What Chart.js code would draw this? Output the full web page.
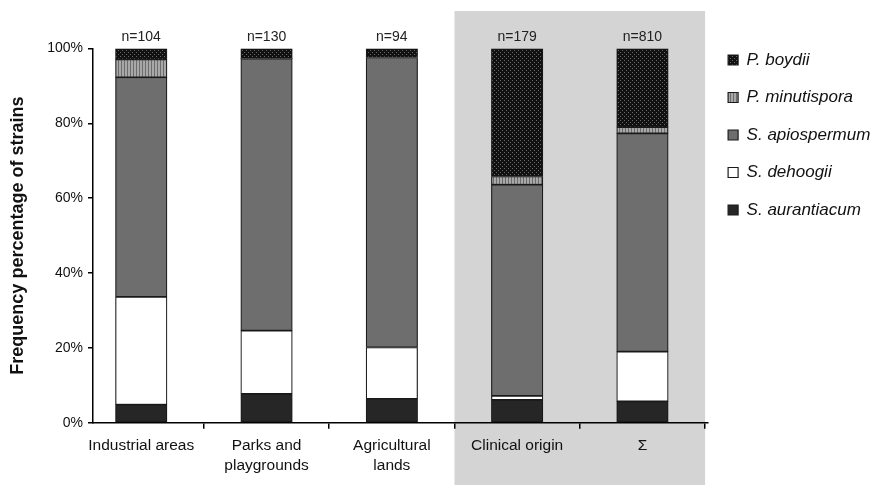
<!DOCTYPE html>
<html>
<head>
<meta charset="utf-8">
<script src="https://cdn.jsdelivr.net/npm/chart.js@4/dist/chart.umd.min.js"></script>
<style>
  html, body { margin: 0; padding: 0; background: #ffffff; }
  #wrap { width: 874px; height: 485px; }
</style>
</head>
<body>
<div id="wrap"><canvas id="c" width="874" height="485"></canvas></div>
<script>
// ---- data ----
const categories = [['Industrial areas'], ['Parks and', 'playgrounds'], ['Agricultural', 'lands'], ['Clinical origin'], ['Σ']];
const sampleSizes = [104, 130, 94, 179, 810];
const seriesNames = ['S. aurantiacum', 'S. dehoogii', 'S. apiospermum', 'P. minutispora', 'P. boydii'];
const sAurantiacum = [4.8, 7.7, 6.4, 6.1, 5.7];
const sDehoogii    = [28.8, 16.9, 13.7, 1.1, 13.3];
const sApiospermum = [58.7, 72.7, 77.5, 56.4, 58.3];
const pMinutispora = [4.8, 0, 0, 2.2, 1.7];
const pBoydii      = [2.9, 2.7, 2.4, 34.2, 21.0];
const yTicks = [0, 20, 40, 60, 80, 100];
const shadedFromIndex = 3;

// ---- fills ----
function makePattern(w, h, draw) {
  const c = document.createElement('canvas');
  c.width = w; c.height = h;
  const g = c.getContext('2d');
  draw(g);
  return g.createPattern(c, 'repeat');
}
const boydiiFill = makePattern(4, 4, g => {
  g.fillStyle = '#111111'; g.fillRect(0, 0, 4, 4);
  g.fillStyle = '#6a6a6a'; g.fillRect(0, 0, 1, 1); g.fillRect(2, 2, 1, 1);
});
const minutisporaFill = makePattern(3, 1, g => {
  g.fillStyle = '#a8a8a8'; g.fillRect(0, 0, 3, 1);
  g.fillStyle = '#6c6c6c'; g.fillRect(1, 0, 1, 1);
});
const fills = ['#262626', '#ffffff', '#6e6e6e', minutisporaFill, boydiiFill];
const seriesValues = [sAurantiacum, sDehoogii, sApiospermum, pMinutispora, pBoydii];

const datasets = seriesNames.map((name, k) => ({
  label: name,
  data: seriesValues[k].map((v, i) => ({ x: i, y: v })),
  backgroundColor: fills[k],
  borderColor: '#1a1a1a',
  borderWidth: ctx => (ctx.raw && ctx.raw.y === 0) ? 0 : 1.2,
  borderSkipped: false,
  barThickness: 51.5
}));

const shadePlugin = {
  id: 'shade',
  beforeDraw(chart) {
    const xs = chart.scales.x;
    const ctx = chart.ctx;
    const x0 = xs.getPixelForValue(shadedFromIndex - 0.5);
    const x1 = xs.getPixelForValue(categories.length - 0.5);
    ctx.save();
    ctx.fillStyle = '#d4d4d4';
    ctx.fillRect(x0, 11, x1 - x0, chart.height - 11);
    ctx.restore();
  }
};

const nLabelPlugin = {
  id: 'nlabels',
  afterDatasetsDraw(chart) {
    const xs = chart.scales.x, ys = chart.scales.y;
    const ctx = chart.ctx;
    ctx.save();
    ctx.font = '14px "Liberation Sans", Arial, sans-serif';
    ctx.fillStyle = '#222222';
    ctx.textAlign = 'center';
    ctx.textBaseline = 'middle';
    sampleSizes.forEach((n, i) => {
      ctx.fillText('n=' + n, xs.getPixelForValue(i), ys.getPixelForValue(100) - 11);
    });
    ctx.restore();
  }
};

Chart.defaults.font.family = '"Liberation Sans", Arial, sans-serif';
Chart.defaults.color = '#111111';

new Chart(document.getElementById('c'), {
  type: 'bar',
  data: { datasets },
  plugins: [shadePlugin, nLabelPlugin],
  options: {
    responsive: false,
    animation: false,
    devicePixelRatio: 1,
    layout: { padding: { top: 31, right: 0, bottom: 0, left: 0 } },
    plugins: {
      title: { display: true, text: ' ', fullSize: false, font: { size: 10, lineHeight: 1 }, padding: { top: 0, bottom: 7.5 } },
      tooltip: { enabled: false },
      legend: {
        position: 'right',
        align: 'start',
        reverse: true,
        maxWidth: 166.4,
        labels: {
          boxWidth: 10,
          boxHeight: 10,
          padding: 20.5,
          color: '#111111',
          font: { size: 17, style: 'italic' }
        }
      }
    },
    scales: {
      x: {
        type: 'linear',
        stacked: true,
        offset: false,
        bounds: 'ticks',
        min: -0.385,
        max: 4.52,
        afterBuildTicks: s => { s.ticks = categories.map((c, i) => ({ value: i })); },
        afterFit: s => { s.height = 62.3; },
        grid: { display: true, drawOnChartArea: false, drawTicks: true, tickLength: 6, offset: true, color: '#000000', lineWidth: 1.5 },
        border: { display: true, color: '#000000', width: 1.5 },
        ticks: {
          autoSkip: false,
          maxRotation: 0,
          padding: 7.5,
          color: '#111111',
          font: { size: 15.5, lineHeight: 1.27 },
          callback: (value, index) => categories[index]
        }
      },
      y: {
        stacked: true,
        min: 0,
        max: 100,
        afterBuildTicks: s => { s.ticks = yTicks.map(v => ({ value: v })); },
        afterFit: s => { s.width = 93; },
        grid: { display: true, drawOnChartArea: false, drawTicks: true, tickLength: 5, color: '#000000', lineWidth: 1.5 },
        border: { display: true, color: '#000000', width: 1.5 },
        ticks: {
          padding: 5,
          color: '#111111',
          font: { size: 14 },
          callback: v => v + '%'
        },
        title: {
          display: true,
          text: 'Frequency percentage of strains',
          color: '#111111',
          font: { size: 18, weight: 'bold' },
          padding: { top: 7.2, bottom: 0 }
        }
      }
    }
  }
});
</script>
</body>
</html>
